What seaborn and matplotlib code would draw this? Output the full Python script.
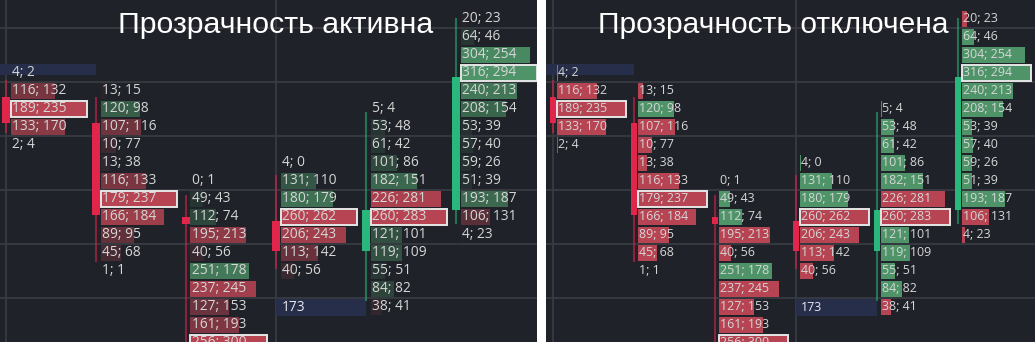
import numpy as np
import matplotlib
matplotlib.use("Agg")
import matplotlib.pyplot as plt
from matplotlib.patches import Rectangle
import seaborn as sns

# ---------------- data ----------------
TICK = 0.25
TOP_PRICE = 4805.00

titles = ["Прозрачность активна", "Прозрачность отключена"]

# price of the top row of each footprint column
col_top_prices = [4804.25, 4804.00, 4802.75, 4803.00, 4803.75, 4805.00]

buy_0 = [4, 116, 189, 133, 2]
sell_0 = [2, 132, 235, 170, 4]

buy_1 = [13, 120, 107, 10, 13, 116, 179, 166, 89, 45, 1]
sell_1 = [15, 98, 116, 77, 38, 133, 237, 184, 95, 68, 1]

buy_2 = [0, 49, 112, 195, 40, 251, 237, 127, 161, 256]
sell_2 = [1, 43, 74, 213, 56, 178, 245, 153, 193, 300]

buy_3 = [4, 131, 180, 260, 206, 113, 40]
sell_3 = [0, 110, 179, 262, 243, 142, 56]

buy_4 = [5, 53, 61, 101, 182, 226, 260, 121, 119, 55, 84, 38]
sell_4 = [4, 48, 42, 86, 151, 281, 283, 101, 109, 51, 82, 41]

buy_5 = [20, 64, 304, 316, 240, 208, 53, 57, 59, 51, 193, 106, 4]
sell_5 = [23, 46, 254, 294, 213, 154, 39, 40, 26, 39, 187, 131, 23]

buys = [buy_0, buy_1, buy_2, buy_3, buy_4, buy_5]
sells = [sell_0, sell_1, sell_2, sell_3, sell_4, sell_5]

# candles (OHLC)
opens = [4803.92, 4803.56, 4802.25, 4802.20, 4801.78, 4802.35]
highs = [4804.15, 4803.92, 4802.56, 4802.83, 4803.71, 4805.02]
lows = [4803.42, 4801.63, 4800.13, 4801.53, 4801.08, 4802.15]
closes = [4803.56, 4802.28, 4802.15, 4801.78, 4802.35, 4804.20]

# highlighted levels (column, price low, price high, label)
band_cols = [0, 3]
band_lo = [4804.225, 4800.875]
band_hi = [4804.375, 4801.1125]
band_labels = ["", "173"]

# ---------------- style ----------------
sns.set_style("dark")
plt.rcParams["font.family"] = ["Open Sans", "DejaVu Sans"]

BG = "#1f2228"
GRID = "#383b42"
RED = np.array([182, 68, 82]) / 255
GREEN = np.array([78, 148, 104]) / 255
CANDLE_RED = "#e2254b"
CANDLE_GREEN = "#28b87c"
TEXT = "#d6d6d6"
BAND = "#272e4a"

W, H = 1035, 342
fig = plt.figure(figsize=(W / 100, H / 100), dpi=100, facecolor="white")


def price_at_px(y):
    return TOP_PRICE - TICK * (y - 19) / 18.0


def draw_panel(ax, px_per_col, left_px, width_px, transparent, fsize, maxlen):
    ax.set_facecolor(BG)
    x0 = -left_px / px_per_col
    x1 = (width_px - left_px) / px_per_col
    ax.set_xlim(x0, x1)
    ax.set_ylim(price_at_px(H), price_at_px(0))
    ax.set_xticks([])
    ax.set_yticks([])
    for s in ax.spines.values():
        s.set_visible(False)
    ax.grid(False)

    # grid
    for n in range(7):
        ax.axhline(TOP_PRICE - TICK * (0.5 + 3 * n), color=GRID, lw=1.3, zorder=0)
    for xv in [0, 3]:
        ax.axvline(xv, color=GRID, lw=1.3, zorder=0)

    # bands
    for c, lo, hi, lab in zip(band_cols, band_lo, band_hi, band_labels):
        left = x0 if c == 0 else c
        ax.add_patch(Rectangle((left, lo), c + 1 - left, hi - lo, color=BAND, zorder=1, lw=0))
        if lab:
            ax.text(c + 0.06, (lo + hi) / 2, lab, color="#e8e8f0", fontsize=fsize,
                    va="center", ha="left", zorder=6)

    bar_start = 0.05
    bar_h = TICK * 16 / 18
    for i, (b, s) in enumerate(zip(buys, sells)):
        b = np.array(b)
        s = np.array(s)
        tot = b + s
        prices = col_top_prices[i] - TICK * np.arange(len(b))
        mx = tot.max()
        ratio = tot / mx
        cols = []
        for bb, ss, r in zip(b, s, ratio):
            base = GREEN if bb > ss else RED
            a = r if transparent else 1.0
            cols.append((*base, a))
        ax.barh(prices, ratio * maxlen, left=i + bar_start, height=bar_h,
                color=cols, lw=0, zorder=3)
        poc = int(np.argmax(tot))
        ax.add_patch(Rectangle((i + bar_start, prices[poc] - bar_h / 2), maxlen, bar_h,
                               fill=False, ec="#e6e6e6", lw=1.4, zorder=5))
        for p, bb, ss in zip(prices, b, s):
            ax.text(i + bar_start + 0.012, p, f"{bb}; {ss}", color=TEXT, fontsize=fsize,
                    va="center", ha="left", zorder=6, clip_on=True)

    # candles
    bw = 0.078
    for i in range(len(opens)):
        up = closes[i] >= opens[i]
        cc = CANDLE_GREEN if up else CANDLE_RED
        ax.plot([i, i], [lows[i], highs[i]], color=cc, alpha=0.55, lw=1.5, zorder=4,
                solid_capstyle="butt")
        lo = min(opens[i], closes[i])
        hi = max(opens[i], closes[i])
        ax.add_patch(Rectangle((i - bw / 2, lo), bw, hi - lo, color=cc, lw=0, zorder=4.5))


axL = fig.add_axes([0, 0, 537 / W, 1])
draw_panel(axL, 90, 6, 537, True, 9.9, 76 / 90.0)
axR = fig.add_axes([546 / W, 0, 489 / W, 1])
draw_panel(axR, 81, 7, 489, False, 8.9, 69 / 81.0)

fig.text(118 / W, 1 - 33 / H, titles[0], fontsize=21.8, color="white",
         family=["Liberation Sans", "DejaVu Sans"], va="baseline", ha="left")
fig.text(598 / W, 1 - 33 / H, titles[1], fontsize=21.6, color="white",
         family=["Liberation Sans", "DejaVu Sans"], va="baseline", ha="left")

fig.savefig("out.png", dpi=100, facecolor="white")
